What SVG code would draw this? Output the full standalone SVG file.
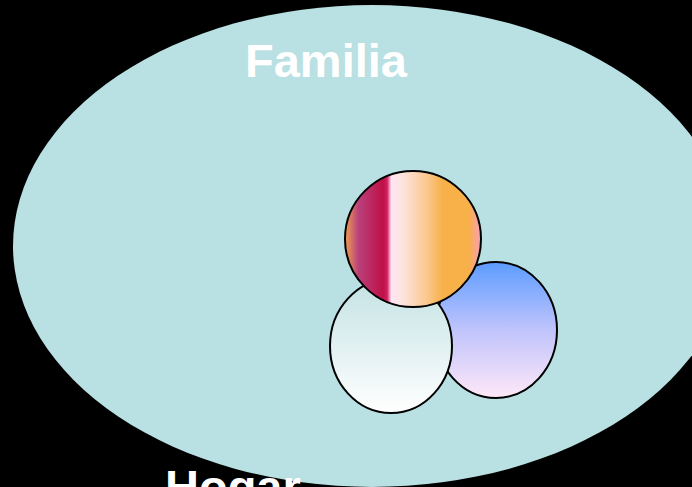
<svg xmlns="http://www.w3.org/2000/svg" width="692" height="487" viewBox="0 0 692 487">
<defs>
<style>
.lbl{font-family:"Liberation Sans",Arial,sans-serif;font-weight:bold;font-size:47px;fill:#ffffff}
.c{stroke:#000;stroke-width:2}
</style>
<linearGradient id="gTop" x1="0" y1="0" x2="1" y2="0">
<stop offset="0" stop-color="#f0a050"/>
<stop offset="0.1" stop-color="#b8407a"/>
<stop offset="0.28" stop-color="#c01048"/>
<stop offset="0.31" stop-color="#d02060"/>
<stop offset="0.34" stop-color="#ffe4f2"/>
<stop offset="0.42" stop-color="#fde4e0"/>
<stop offset="0.6" stop-color="#fbc890"/>
<stop offset="0.72" stop-color="#f8b048"/>
<stop offset="0.91" stop-color="#f8b048"/>
<stop offset="1" stop-color="#f8a0b8"/>
</linearGradient>
<linearGradient id="gBlue" x1="0" y1="0" x2="0" y2="1">
<stop offset="0" stop-color="#5c9cff"/>
<stop offset="0.5" stop-color="#c0c4fc"/>
<stop offset="1" stop-color="#ffe8f8"/>
</linearGradient>
<linearGradient id="gWhite" x1="0" y1="0" x2="0" y2="1">
<stop offset="0" stop-color="#c4e2e4"/>
<stop offset="1" stop-color="#ffffff"/>
</linearGradient>
</defs>
<rect width="692" height="487" fill="#000"/>
<g id="familia">
<ellipse cx="372" cy="246" rx="359" ry="241" fill="#b9e0e3"/>
<text class="lbl" x="326" y="77" text-anchor="middle">Familia</text>
</g>
<g id="hogar">
<text class="lbl" x="165" y="503">Hogar</text>
</g>
<g id="circulo-azul">
<ellipse class="c" cx="496" cy="330" rx="61" ry="68" fill="url(#gBlue)"/>
</g>
<g id="circulo-blanco">
<ellipse class="c" cx="391" cy="346" rx="61" ry="67" fill="url(#gWhite)"/>
</g>
<g id="circulo-superior">
<ellipse class="c" cx="413" cy="239" rx="68" ry="68" fill="url(#gTop)"/>
</g>
<g id="connectors"/>
</svg>
